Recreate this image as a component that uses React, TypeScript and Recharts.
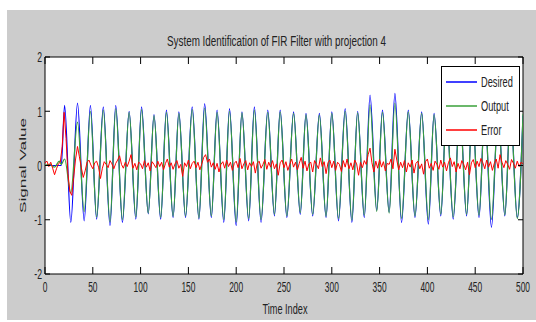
import React from 'react';
import { LineChart, Line, XAxis, YAxis, CartesianGrid, ReferenceArea, Legend } from 'recharts';

const seriesNames = ['Desired', 'Output', 'Error'];
const seriesColors = ['#0000ff', '#3aa03a', '#ff0000'];
const xTicks = [0, 50, 100, 150, 200, 250, 300, 350, 400, 450, 500];
const yTicks = [-2, -1, 0, 1, 2];
const chartTitle = 'System Identification of FIR Filter with projection 4';
const xLabel = 'Time Index';
const yLabel = 'Signal Value';

// times of the wave's turning points (time index)
const waveTimes = [
  0, 5, 10, 15, 17,
  20.5, 27, 34, 41, 47.5, 54, 61, 68, 74, 81, 88, 95, 101, 108, 114, 121,
  127, 134, 140, 147, 154, 161, 167, 174, 180, 187, 193, 200, 206, 213, 219, 226,
  233, 240, 246, 253, 260, 267, 273, 280, 287, 294, 300, 307, 314, 321, 327, 334,
  340, 347, 353, 360, 366, 373, 380, 387, 394, 401, 407, 414, 420, 427, 434, 441,
  447, 454, 460, 467, 474, 481, 487, 494, 500,
];

const desiredVals = [
  0, 0, 0, 0, 0,
  1.11, -1.05, 1.15, -1.02, 1.11, -0.99, 1.08, -1.11, 1.11, -1.05, 1.0, -0.99, 1.08, -0.89, 0.94, -0.99,
  1.02, -0.96, 0.99, -0.96, 1.08, -0.99, 1.14, -0.96, 1.02, -1.05, 1.05, -1.11, 0.99, -1.02, 1.08, -1.05,
  1.02, -0.93, 1.02, -0.96, 0.99, -0.9, 0.96, -0.93, 0.96, -0.96, 0.99, -1.02, 1.05, -1.05, 1.0, -0.96,
  1.3, -0.83, 1.02, -0.86, 1.33, -1.05, 1.02, -0.96, 0.99, -1.08, 0.96, -0.93, 1.0, -0.99, 1.02, -0.93,
  1.0, -0.96, 1.02, -1.14, 1.0, -0.93, 1.0, -0.96, 0.92,
];

const outputVals = [
  0, 0.02, -0.03, 0.08, 0.02,
  0.12, -0.5, 0.8, -0.85, 1.0, -0.95, 1.02, -1.04, 1.05, -1.0, 0.98, -0.95, 1.03, -0.88, 0.92, -0.96,
  0.98, -0.94, 0.96, -0.93, 1.03, -0.97, 1.06, -0.93, 0.98, -1.0, 1.0, -1.04, 0.97, -0.98, 1.02, -1.0,
  0.98, -0.9, 0.99, -0.93, 0.96, -0.87, 0.94, -0.9, 0.93, -0.94, 0.96, -0.98, 1.0, -1.01, 0.97, -0.92,
  1.12, -0.85, 0.98, -0.88, 1.15, -0.98, 0.99, -0.93, 0.96, -1.0, 0.94, -0.9, 0.97, -0.95, 0.98, -0.9,
  0.97, -0.92, 0.98, -1.0, 0.97, -0.91, 0.97, -0.98, 0.95,
];

// error read every 2 time steps, from 0 to 500
const errorStep = 2;
const errorVals = [
  0.05, 0.08, -0.02, 0.06, -0.05, -0.17, -0.06, 0.03, 0.06, 0.35,
  0.98, 0.5, -0.15, -0.48, -0.55, -0.22, 0.12, 0.35, 0.16, -0.04,
  -0.22, -0.1, 0.06, 0.1, 0.01, -0.06, 0.05, 0.08, -0.03, -0.24,
  -0.05, 0.07, 0.02, -0.04, 0.09, 0.03, -0.06, 0.04, 0.1, 0.18,
  0.02, -0.05, 0.06, -0.02, 0.08, 0.2, -0.05, 0.04, -0.08, 0.06,
  0.03, -0.06, 0.09, -0.03, 0.05, -0.1, 0.07, 0.02, -0.04, 0.08,
  -0.02, 0.06, -0.08, 0.04, 0.12, -0.03, 0.05, -0.07, 0.03, 0.09,
  -0.05, 0.02, -0.2, 0.05, -0.02, 0.1, -0.06, 0.04, 0.08, -0.04,
  0.06, -0.08, 0.03, 0.15, 0.2, 0.06, 0.12, -0.03, 0.05, -0.07,
  0.04, -0.12, 0.02, 0.07, -0.05, 0.1, -0.02, 0.06, -0.09, 0.04,
  0.08, -0.04, 0.13, -0.06, 0.03, 0.09, -0.08, 0.05, -0.02, 0.07,
  -0.14, 0.04, 0.08, -0.05, 0.02, 0.11, -0.07, 0.06, -0.03, 0.09,
  -0.06, 0.03, -0.18, 0.05, 0.1, -0.04, 0.07, -0.09, 0.02, 0.12,
  -0.03, 0.06, -0.08, 0.04, 0.15, -0.05, 0.08, -0.1, 0.03, 0.06,
  -0.12, 0.09, 0.02, -0.06, 0.14, -0.02, 0.07, -0.15, 0.05, 0.1,
  -0.04, 0.08, -0.09, 0.06, 0.02, -0.11, 0.09, -0.03, 0.12, -0.06,
  0.05, -0.08, 0.1, 0.03, -0.18, 0.06, -0.04, 0.09, 0.02, 0.2,
  0.32, 0.05, -0.12, 0.08, -0.05, 0.11, -0.03, 0.07, -0.1, 0.04,
  0.02, 0.12, -0.06, 0.3, 0.1, -0.08, 0.06, -0.04, 0.09, -0.12,
  0.05, -0.03, 0.1, -0.14, 0.04, 0.08, -0.06, 0.03, -0.16, 0.07,
  0.12, -0.05, 0.04, -0.09, 0.08, 0.02, -0.07, 0.1, -0.03, 0.06,
  -0.1, 0.05, 0.14, -0.02, 0.07, -0.12, 0.04, -0.06, 0.09, 0.02,
  -0.08, 0.06, -0.17, 0.05, 0.11, -0.04, 0.08, -0.02, 0.13, 0.05,
  -0.06, 0.1, -0.03, 0.07, -0.09, 0.04, 0.12, -0.05, 0.2, 0.06,
  -0.04, 0.09, 0.02, -0.07, 0.11, 0.04, -0.05, 0.08, -0.02, 0.06,
  0.03,
];

const desiredData = waveTimes.map((t, i) => ({ t, v: desiredVals[i] }));
const outputData = waveTimes.map((t, i) => ({ t, v: outputVals[i] }));
const errorData = errorVals.map((v, i) => ({ t: i * errorStep, v }));

const W = 536;
const H = 322;
const PLOT = { left: 45, top: 57, right: 523, bottom: 274 };
const AXIS_W = 30;
const AXIS_H = 30;
const FONT = '"Liberation Sans", Arial, Helvetica, sans-serif';
const TXT = '#222';

function XTick(props: any) {
  const { x, payload } = props;
  return (
    <g>
      <line x1={x} x2={x} y1={PLOT.bottom} y2={PLOT.bottom - 7} stroke="#000" />
      <line x1={x} x2={x} y1={PLOT.top} y2={PLOT.top + 7} stroke="#000" />
      <text
        transform={`translate(${x},${PLOT.bottom + 13}) scale(0.6,1)`}
        textAnchor="middle"
        dominantBaseline="central"
        fontSize={14}
        fontFamily={FONT}
        fill={TXT}
      >
        {payload.value}
      </text>
    </g>
  );
}

function YTick(props: any) {
  const { y, payload } = props;
  return (
    <g>
      <line x1={PLOT.left} x2={PLOT.left + 5} y1={y} y2={y} stroke="#000" />
      <line x1={PLOT.right} x2={PLOT.right - 5} y1={y} y2={y} stroke="#000" />
      <text
        transform={`translate(${PLOT.left - 3},${y}) scale(0.62,1)`}
        textAnchor="end"
        dominantBaseline="central"
        fontSize={14}
        fontFamily={FONT}
        fill={TXT}
      >
        {payload.value}
      </text>
    </g>
  );
}

function LegendBox(props: any) {
  const payload = [...(props.payload || [])].sort(
    (a: any, b: any) => seriesNames.indexOf(a.value) - seriesNames.indexOf(b.value)
  );
  return (
    <svg width={79} height={80} style={{ display: 'block' }}>
      <rect x={0.5} y={0.5} width={78} height={79} fill="#fff" stroke="#000" />
      {payload.map((p: any, i: number) => (
        <g key={i}>
          <line x1={5} x2={36} y1={16 + i * 24} y2={16 + i * 24} stroke={p.color} strokeWidth={1.5} />
          <text
            transform={`translate(40,${16 + i * 24}) scale(0.66,1)`}
            dominantBaseline="central"
            fontSize={14}
            fontFamily={FONT}
            fill={TXT}
          >
            {p.value}
          </text>
        </g>
      ))}
    </svg>
  );
}

export default function App() {
  return (
    <div style={{ position: 'absolute', left: 0, top: 0, width: W, height: H }}>
      <div style={{ position: 'absolute', left: 7, top: 10, width: W - 7, height: 310, background: '#cccccc' }} />
      <div style={{ position: 'absolute', left: 0, top: 0 }}>
        <LineChart
          width={W}
          height={H}
          margin={{
            top: PLOT.top,
            right: W - PLOT.right,
            bottom: H - PLOT.bottom - AXIS_H,
            left: PLOT.left - AXIS_W,
          }}
        >
          <CartesianGrid horizontal={false} vertical={false} fill="#ffffff" />
          <XAxis
            dataKey="t"
            type="number"
            domain={[0, 500]}
            ticks={xTicks}
            interval={0}
            height={AXIS_H}
            axisLine={false}
            tickLine={false}
            tick={<XTick />}
            allowDataOverflow
          />
          <YAxis
            type="number"
            domain={[-2, 2]}
            ticks={yTicks}
            interval={0}
            width={AXIS_W}
            axisLine={false}
            tickLine={false}
            tick={<YTick />}
            allowDataOverflow
          />
          <ReferenceArea x1={0} x2={500} y1={-2} y2={2} fill="none" stroke="#000" strokeWidth={1} />
          <Line
            data={desiredData}
            dataKey="v"
            name={seriesNames[0]}
            type="monotone"
            stroke={seriesColors[0]}
            strokeWidth={1.2}
            dot={false}
            isAnimationActive={false}
          />
          <Line
            data={outputData}
            dataKey="v"
            name={seriesNames[1]}
            type="monotone"
            stroke={seriesColors[1]}
            strokeWidth={1.2}
            dot={false}
            isAnimationActive={false}
          />
          <Line
            data={errorData}
            dataKey="v"
            name={seriesNames[2]}
            type="linear"
            stroke={seriesColors[2]}
            strokeWidth={1}
            dot={false}
            isAnimationActive={false}
          />
          <Legend
            layout="horizontal"
            verticalAlign="middle"
            align="center"
            content={<LegendBox />}
            wrapperStyle={{ position: 'absolute', left: 441, top: 66, width: 79, height: 80 }}
          />
        </LineChart>
      </div>
      <svg
        width={W}
        height={H}
        style={{ position: 'absolute', left: 0, top: 0, pointerEvents: 'none' }}
      >
        <text
          x={276.5}
          y={41}
          textAnchor="middle"
          dominantBaseline="central"
          fontSize={14}
          fontFamily={FONT}
          fill={TXT}
          textLength={219}
          lengthAdjust="spacingAndGlyphs"
        >
          {chartTitle}
        </text>
        <text
          x={285}
          y={309}
          textAnchor="middle"
          dominantBaseline="central"
          fontSize={14}
          fontFamily={FONT}
          fill={TXT}
          textLength={45}
          lengthAdjust="spacingAndGlyphs"
        >
          {xLabel}
        </text>
        <text
          transform="translate(22.5,165.5) rotate(-90) scale(1,0.65)"
          textAnchor="middle"
          dominantBaseline="central"
          fontSize={14}
          fontFamily={FONT}
          fill={TXT}
          textLength={95}
          lengthAdjust="spacingAndGlyphs"
        >
          {yLabel}
        </text>
      </svg>
    </div>
  );
}
